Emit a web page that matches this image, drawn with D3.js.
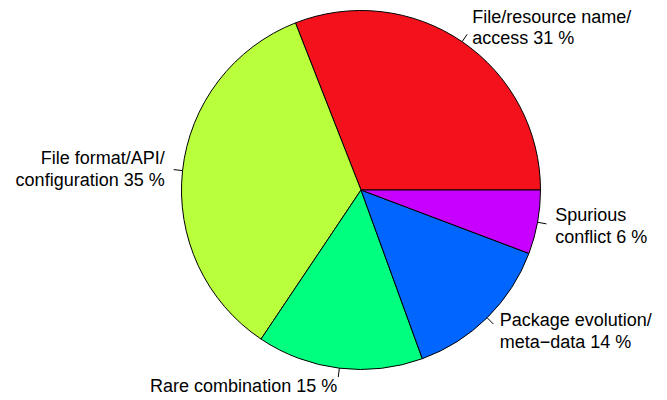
<!DOCTYPE html>
<html>
<head>
<meta charset="utf-8">
<script src="https://cdn.jsdelivr.net/npm/d3@7"></script>
<style>
  html, body { margin: 0; padding: 0; background: #ffffff; }
  svg { display: block; }
</style>
</head>
<body>
<svg id="chart" width="667" height="400"></svg>
<script>
// ---- data ----
const categories = [
  "File/resource name/\naccess",
  "File format/API/\nconfiguration",
  "Rare combination",
  "Package evolution/\nmeta\u2212data",
  "Spurious\nconflict"
];
const values = [30.95, 34.65, 14.95, 13.7, 5.75];
const percentLabels = ["31 %", "35 %", "15 %", "14 %", "6 %"];
const colors = ["#F3121C", "#BAFF3C", "#00FF7F", "#0066FF", "#C800FF"];

// ---- layout ----
const cx = 361, cy = 190, radius = 179.5;
const fontSize = 18, lineHeight = 21.6;

const svg = d3.select("#chart");
const g = svg.append("g").attr("transform", `translate(${cx},${cy})`);

const total = d3.sum(values);
const cum = [0, ...d3.cumsum(values)];
// R-style pie: start at 3 o'clock, counter-clockwise. d3 angles: 0 at 12 o'clock, clockwise.
const angle = d3.scaleLinear().domain([0, total]).range([Math.PI / 2, Math.PI / 2 - 2 * Math.PI]);

const slices = values.map((v, i) => ({
  i,
  start: angle(cum[i]),
  end: angle(cum[i + 1]),
  mid: angle((cum[i] + cum[i + 1]) / 2)
}));

const arc = d3.arc().innerRadius(0).outerRadius(radius)
  .startAngle(d => d.start).endAngle(d => d.end);

g.selectAll("path.slice").data(slices).join("path")
  .attr("class", "slice")
  .attr("d", arc)
  .attr("fill", d => colors[d.i])
  .attr("stroke", "#000")
  .attr("stroke-width", 1)
  .attr("stroke-linejoin", "round");

// tick lines from r to 1.05 r
const px = (a, r) => r * Math.sin(a);
const py = (a, r) => -r * Math.cos(a);

g.selectAll("line.tick").data(slices).join("line")
  .attr("class", "tick")
  .attr("x1", d => px(d.mid, radius)).attr("y1", d => py(d.mid, radius))
  .attr("x2", d => px(d.mid, radius * 1.05)).attr("y2", d => py(d.mid, radius * 1.05))
  .attr("stroke", "#000").attr("stroke-width", 1);

// labels at 1.1 r
const labels = g.selectAll("text.lab").data(slices).join("text")
  .attr("class", "lab")
  .attr("font-family", "'Liberation Sans', Arial, Helvetica, sans-serif")
  .attr("font-size", fontSize)
  .attr("fill", "#000")
  .attr("text-anchor", d => px(d.mid, 1) < 0 ? "end" : "start");

labels.each(function(d) {
  const lines = (categories[d.i] + " " + percentLabels[d.i]).split("\n");
  const x = px(d.mid, radius * 1.1);
  const y = py(d.mid, radius * 1.1);
  const n = lines.length;
  d3.select(this).selectAll("tspan").data(lines).join("tspan")
    .attr("x", x)
    .attr("y", (t, k) => y + (k - (n - 1) / 2) * lineHeight + 0.36 * fontSize)
    .text(t => t);
});
</script>
</body>
</html>
